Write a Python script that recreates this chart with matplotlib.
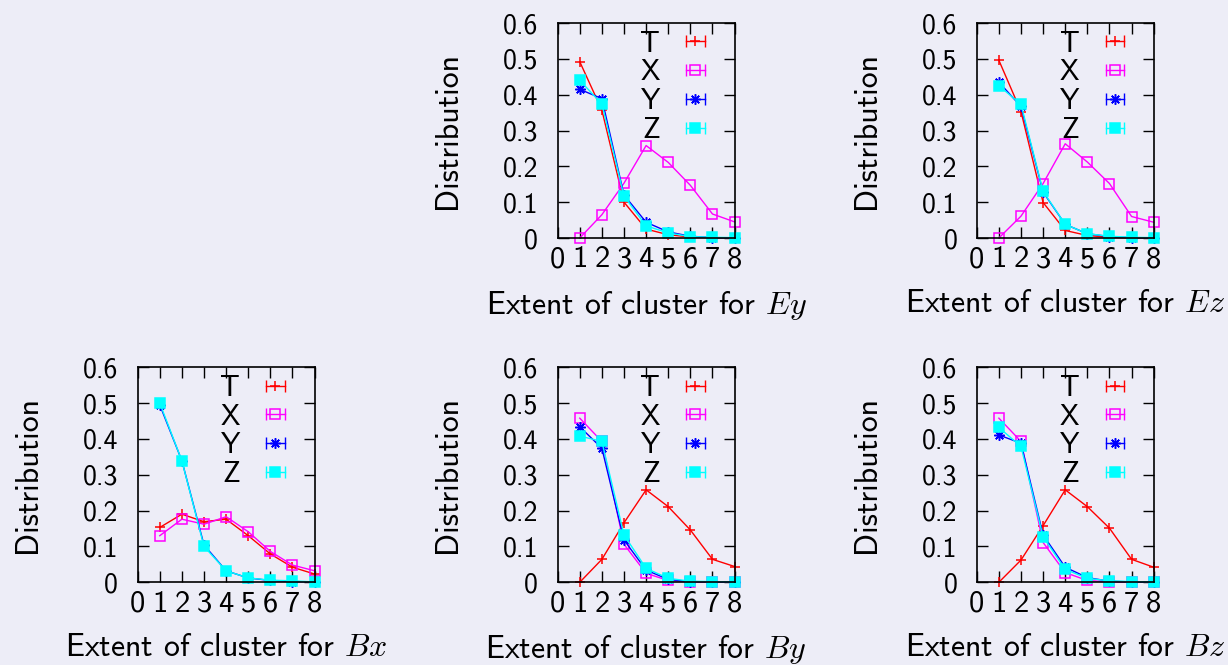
import matplotlib
matplotlib.use("Agg")
import matplotlib.pyplot as plt
from matplotlib.lines import Line2D
from matplotlib.legend_handler import HandlerLine2D

plt.rcParams['font.family'] = ['cmss10', 'DejaVu Sans']
plt.rcParams['mathtext.fontset'] = 'cm'
plt.rcParams['axes.unicode_minus'] = False

BG = '#ededf7'

# cluster extent (x) and tick labels
extent = [1, 2, 3, 4, 5, 6, 7, 8]
xticks = [0, 1, 2, 3, 4, 5, 6, 7, 8]
yticks = [0, 0.1, 0.2, 0.3, 0.4, 0.5, 0.6]
series_names = ['T', 'X', 'Y', 'Z']

# Ey
ey_T = [0.492, 0.357, 0.100, 0.025, 0.009, 0.003, 0.001, 0.000]
ey_X = [0.000, 0.065, 0.153, 0.258, 0.211, 0.147, 0.067, 0.045]
ey_Y = [0.415, 0.389, 0.120, 0.044, 0.017, 0.005, 0.001, 0.000]
ey_Z = [0.440, 0.374, 0.117, 0.034, 0.014, 0.004, 0.002, 0.001]

# Ez
ez_T = [0.496, 0.353, 0.099, 0.021, 0.007, 0.002, 0.000, 0.000]
ez_X = [0.000, 0.061, 0.152, 0.263, 0.212, 0.152, 0.060, 0.044]
ez_Y = [0.435, 0.367, 0.128, 0.038, 0.012, 0.004, 0.001, 0.000]
ez_Z = [0.425, 0.373, 0.130, 0.038, 0.012, 0.005, 0.002, 0.001]

# Bx
bx_T = [0.153, 0.190, 0.169, 0.176, 0.130, 0.079, 0.042, 0.023]
bx_X = [0.130, 0.176, 0.162, 0.183, 0.141, 0.086, 0.048, 0.032]
bx_Y = [0.495, 0.339, 0.104, 0.032, 0.012, 0.005, 0.002, 0.001]
bx_Z = [0.500, 0.339, 0.100, 0.032, 0.012, 0.006, 0.004, 0.001]

# By
by_T = [0.000, 0.064, 0.166, 0.258, 0.211, 0.146, 0.064, 0.044]
by_X = [0.458, 0.393, 0.106, 0.025, 0.005, 0.001, 0.000, 0.000]
by_Y = [0.434, 0.374, 0.118, 0.034, 0.008, 0.002, 0.001, 0.000]
by_Z = [0.408, 0.393, 0.132, 0.039, 0.011, 0.003, 0.002, 0.001]

# Bz
bz_T = [0.000, 0.062, 0.158, 0.258, 0.211, 0.151, 0.064, 0.042]
bz_X = [0.458, 0.393, 0.111, 0.027, 0.005, 0.001, 0.000, 0.000]
bz_Y = [0.411, 0.388, 0.132, 0.042, 0.013, 0.003, 0.001, 0.000]
bz_Z = [0.432, 0.379, 0.127, 0.036, 0.011, 0.004, 0.002, 0.001]

colors = ['#ff0000', '#ff00ff', '#0000ff', '#00ffff']
markers = ['+', 's', (8, 2, 0), 's']
filled = [True, False, True, True]
msize = [7.5, 6.5, 7.5, 7]


def draw_panel(ax, data, comp):
    ax.set_facecolor(BG)
    for i in range(4):
        mfc = colors[i] if filled[i] else 'none'
        ax.plot(extent, data[i], color=colors[i], lw=1.0, marker=markers[i],
                ms=msize[i], mfc=mfc, mec=colors[i], mew=1.1, clip_on=False)

    ax.set_xlim(0, 8)
    ax.set_ylim(0, 0.6)
    ax.set_xticks(xticks)
    ax.set_xticklabels([str(t) for t in xticks], fontsize=22)
    ax.set_yticks(yticks)
    ax.set_yticklabels(['0'] + ['%.1f' % t for t in yticks[1:]], fontsize=20)
    ax.tick_params(direction='in', length=8, width=1, top=True, right=True)
    ax.tick_params(axis='x', pad=6)
    ax.tick_params(axis='y', pad=14)
    for sp in ax.spines.values():
        sp.set_linewidth(1.2)

    ax.set_xlabel('Extent of cluster for $%s$' % comp, fontsize=23)
    ax.xaxis.set_label_coords(0.5, -0.235)
    ax.set_ylabel('Distribution', fontsize=23)
    ax.yaxis.set_label_coords(-0.54, 0.5)

    # legend: error-bar like sample with marker in the middle
    handles = []
    hmap = {}
    for i in range(4):
        bar = Line2D([], [], color=colors[i], lw=1.0, marker='|', ms=8, mew=1.0)
        mfc = colors[i] if filled[i] else 'none'
        pt = Line2D([], [], color=colors[i], lw=0, marker=markers[i],
                    ms=msize[i], mfc=mfc, mec=colors[i], mew=1.1)
        hmap[bar] = HandlerLine2D(numpoints=2, marker_pad=0)
        hmap[pt] = HandlerLine2D(numpoints=1)
        handles.append((bar, pt))
    ax.legend(handles, series_names, handler_map=hmap, loc='upper right',
              bbox_to_anchor=(0.83, 0.965), frameon=False, markerfirst=False,
              fontsize=21, handlelength=0.62, handletextpad=0.9,
              labelspacing=0.06, borderpad=0, borderaxespad=0)


fig = plt.figure(figsize=(12.28, 6.65), dpi=100)
fig.patch.set_facecolor(BG)

col_left = [0.1121, 0.4541, 0.7954]
w = 0.1441
h = 0.3233
row_bottom = [0.6421, 0.1244]

panels = [
    (0, 1, [ey_T, ey_X, ey_Y, ey_Z], 'Ey'),
    (0, 2, [ez_T, ez_X, ez_Y, ez_Z], 'Ez'),
    (1, 0, [bx_T, bx_X, bx_Y, bx_Z], 'Bx'),
    (1, 1, [by_T, by_X, by_Y, by_Z], 'By'),
    (1, 2, [bz_T, bz_X, bz_Y, bz_Z], 'Bz'),
]

for r, c, data, comp in panels:
    ax = fig.add_axes([col_left[c], row_bottom[r], w, h])
    draw_panel(ax, data, comp)

fig.savefig('out.png', dpi=100, facecolor=BG)
